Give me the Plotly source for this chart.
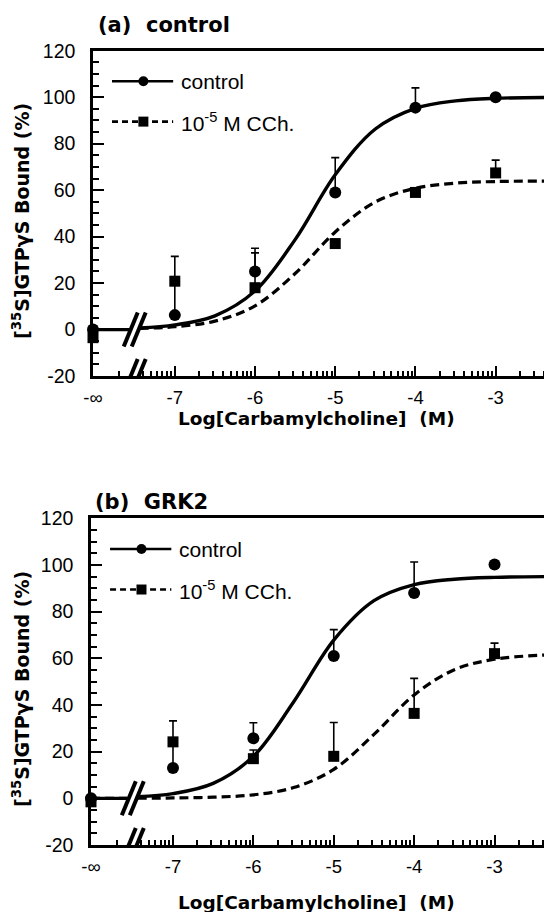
import math
import plotly.graph_objects as go

# ---------------- data ----------------
LOG_CONC = ["-inf", -7, -6, -5, -4, -3]          # log[carbamylcholine] (M)
TICK_VALS = [-7, -6, -5, -4, -3]
TICK_TEXT = ["-7", "-6", "-5", "-4", "-3"]
Y_TICKS = [-20, 0, 20, 40, 60, 80, 100, 120]

# panel (a) control
A_CTRL = [0, 6.2, 25, 59, 95.5, 100]
A_CTRL_ERR = [0, 15, 10, 15, 8.5, 0]
A_CCH = [-3.5, 20.8, 18, 37, 59, 67.4]
A_CCH_ERR = [0, 10.7, 15, 0, 0, 5.5]

# panel (b) GRK2
B_CTRL = [0, 13, 25.7, 61, 88, 100.2]
B_CTRL_ERR = [0, 11, 6.7, 11.3, 13.3, 0]
B_CCH = [-1.5, 24.2, 17, 18, 36.4, 62]
B_CCH_ERR = [0, 9, 3.7, 14.5, 15, 4.5]

# fitted curves
CURVE_X = [-7.44, -7, -6.5, -6, -5.5, -5, -4.5, -4, -3.5, -3, -2.31]
A_CTRL_FIT = [0.7, 2.0, 5.9, 16.6, 38.7, 66.6, 86.3, 95.2, 98.4, 99.5, 99.9]
A_CCH_FIT = [0.45, 1.2, 3.6, 10.2, 24.1, 42, 54.9, 60.8, 63, 63.7, 63.9]
B_CTRL_FIT = [0.75, 2.0, 6.4, 18, 41.3, 67.8, 84.7, 91.6, 93.9, 94.7, 95]
B_CCH_FIT = [0.05, 0.16, 0.5, 1.5, 4.6, 12.4, 27.4, 44.3, 55.1, 59.6, 61.5]
BASELINE = [0, 0]   # value at -inf up to the axis break

# ---------------- axis placement constants ----------------
NEG_INF_POS = -8.02
X_RANGE = [-8.02, -2.31]
BREAK_X = -7.5
FLAT_X = [NEG_INF_POS, -7.57]

W, H = 552, 912
OFF = 8  # page body margin of the html page
FONT = "Liberation Sans, Arial, sans-serif"
BOLD = "DejaVu Sans, sans-serif"


def fx(px):
    return (px - OFF) / W


def fy(px):
    return 1 - (px - OFF) / H


def xpos(v):
    return NEG_INF_POS if v == "-inf" else v


minor_x = []
for d in range(-8, -2):
    for k in range(2, 10):
        v = d + math.log10(k)
        if X_RANGE[0] < v < X_RANGE[1]:
            minor_x.append(v)

fig = go.Figure()

panels = [
    dict(ctrl=A_CTRL, ctrl_err=A_CTRL_ERR, cch=A_CCH, cch_err=A_CCH_ERR,
         ctrl_fit=A_CTRL_FIT, cch_fit=A_CCH_FIT, xa="x", ya="y"),
    dict(ctrl=B_CTRL, ctrl_err=B_CTRL_ERR, cch=B_CCH, cch_err=B_CCH_ERR,
         ctrl_fit=B_CTRL_FIT, cch_fit=B_CCH_FIT, xa="x2", ya="y2"),
]

xs = [xpos(v) for v in LOG_CONC]
for p in panels:
    common = dict(xaxis=p["xa"], yaxis=p["ya"], showlegend=False, cliponaxis=False)
    # flat segments at -inf
    fig.add_trace(go.Scatter(x=FLAT_X, y=BASELINE, mode="lines",
                             line=dict(color="black", width=3, dash="9px,5px"), **common))
    fig.add_trace(go.Scatter(x=FLAT_X, y=BASELINE, mode="lines",
                             line=dict(color="black", width=3.2), **common))
    # fitted curves
    fig.add_trace(go.Scatter(x=CURVE_X, y=p["cch_fit"], mode="lines",
                             line=dict(color="black", width=3.2, dash="9px,5px",
                                       shape="spline", smoothing=1.0), **common))
    fig.add_trace(go.Scatter(x=CURVE_X, y=p["ctrl_fit"], mode="lines",
                             line=dict(color="black", width=3.4,
                                       shape="spline", smoothing=1.0), **common))
    # data points with upper error bars
    fig.add_trace(go.Scatter(x=xs, y=p["cch"], mode="markers",
                             marker=dict(symbol="square", size=11, color="black"),
                             error_y=dict(type="data", symmetric=False, array=p["cch_err"],
                                          arrayminus=[0] * len(xs), color="black",
                                          thickness=1.6, width=4),
                             **common))
    fig.add_trace(go.Scatter(x=xs, y=p["ctrl"], mode="markers",
                             marker=dict(symbol="circle", size=12, color="black"),
                             error_y=dict(type="data", symmetric=False, array=p["ctrl_err"],
                                          arrayminus=[0] * len(xs), color="black",
                                          thickness=1.6, width=4),
                             **common))

xaxis_common = dict(
    range=X_RANGE, showline=True, linewidth=2.5, linecolor="black", mirror=True,
    ticks="inside", ticklen=10, tickwidth=2, tickcolor="black",
    tickvals=[NEG_INF_POS] + TICK_VALS, ticktext=["-\u221e"] + TICK_TEXT,
    tickfont=dict(family=FONT, size=18.5, color="black"), ticklabelstandoff=3,
    showgrid=False, zeroline=False, automargin=False,
    minor=dict(tickmode="array", tickvals=minor_x, ticks="inside", ticklen=5,
               tickwidth=1.5, tickcolor="black", showgrid=False),
)
yaxis_common = dict(
    range=[-20, 120], showline=True, linewidth=2.5, linecolor="black", mirror=True,
    ticks="inside", ticklen=11, tickwidth=2, tickcolor="black",
    tickvals=Y_TICKS, ticktext=[str(v) for v in Y_TICKS],
    tickfont=dict(family=FONT, size=19.5, color="black"), ticklabelstandoff=11,
    showgrid=False, zeroline=False, automargin=False,
    minor=dict(dtick=5, tick0=0, ticks="inside", ticklen=6, tickwidth=1.5,
               tickcolor="black", showgrid=False),
)

fig.update_layout(
    width=W, height=H, margin=dict(l=0, r=0, t=0, b=0, autoexpand=False),
    paper_bgcolor="white", plot_bgcolor="white", showlegend=False,
    xaxis=dict(domain=[fx(93), fx(551)], anchor="y", **xaxis_common),
    yaxis=dict(domain=[fy(376), fy(50.7)], anchor="x", **yaxis_common),
    xaxis2=dict(domain=[fx(91), fx(550)], anchor="y2", **xaxis_common),
    yaxis2=dict(domain=[fy(845), fy(518.3)], anchor="x2", **yaxis_common),
)

shapes = []
annotations = []
for (xr, yr, title, tx, ty, ytc, xtc) in [
    ("x", "y", "(a)\u00a0\u00a0control", 96, 25, 221, 419),
    ("x2", "y2", "(b)\u00a0\u00a0GRK2", 93, 502, 689, 902),
]:
    # axis-break marks
    for level in [0, -20]:
        shapes.append(dict(type="rect", xref=xr, yref=yr, xsizemode="pixel",
                           ysizemode="pixel", xanchor=BREAK_X, yanchor=level,
                           x0=-4, x1=4, y0=-5, y1=5, fillcolor="white",
                           line=dict(width=0)))
        for off in (-4, 4):
            shapes.append(dict(type="line", xref=xr, yref=yr, xsizemode="pixel",
                               ysizemode="pixel", xanchor=BREAK_X, yanchor=level,
                               x0=off - 7, y0=-17, x1=off + 7, y1=17,
                               line=dict(color="black", width=4)))
    # legend
    xd, yd = xr + " domain", yr + " domain"
    rows = [(0.906, "solid", "circle", "control"),
            (0.782, "6px,4px", "square", "10<sup>-5</sup> M CCh.")]
    for yy, dash, sym, label in rows:
        shapes.append(dict(type="line", xref=xd, yref=yd, x0=0.0415, x1=0.175,
                           y0=yy, y1=yy, line=dict(color="black", width=2.6, dash=dash)))
        shapes.append(dict(type="circle" if sym == "circle" else "rect",
                           xref=xd, yref=yd, xsizemode="pixel", ysizemode="pixel",
                           xanchor=0.11, yanchor=yy, x0=-5, x1=5, y0=-5, y1=5,
                           fillcolor="black", line=dict(color="black", width=0)))
        annotations.append(dict(text=label, xref=xd, yref=yd, x=0.187, y=yy,
                                xanchor="left", yanchor="middle", showarrow=False,
                                font=dict(family=FONT, size=21, color="black")))
    # panel title
    annotations.append(dict(text="<b>" + title + "</b>", xref="paper", yref="paper",
                            x=fx(tx), y=fy(ty), xanchor="left", yanchor="middle",
                            showarrow=False,
                            font=dict(family=BOLD, size=21, color="black")))
    # y axis title
    annotations.append(dict(text="<b>[<sup>35</sup>S]GTP\u03b3S Bound (%)</b>",
                            xref="paper", yref="paper", x=fx(21), y=fy(ytc),
                            xanchor="center", yanchor="middle", textangle=-90,
                            showarrow=False,
                            font=dict(family=BOLD, size=19, color="black")))
    # x axis title
    annotations.append(dict(text="<b>Log[Carbamylcholine]\u00a0\u00a0(M)</b>",
                            xref="paper", yref="paper", x=fx(316), y=fy(xtc),
                            xanchor="center", yanchor="middle", showarrow=False,
                            font=dict(family=BOLD, size=18.5, color="black")))

fig.update_layout(shapes=shapes, annotations=annotations)
fig.write_html("out.html")
